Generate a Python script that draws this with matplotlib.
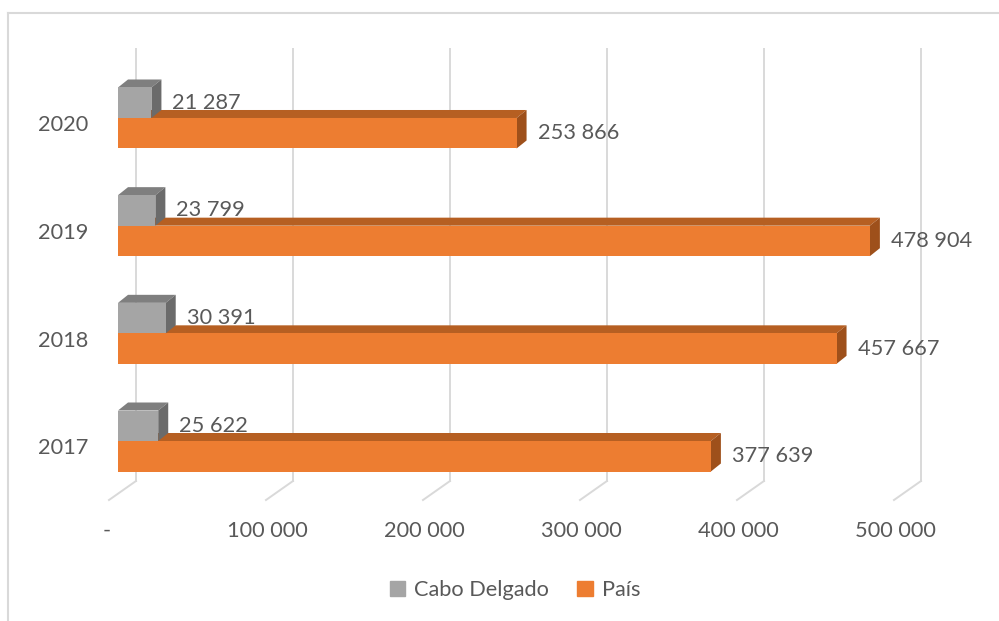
import matplotlib.pyplot as plt
from matplotlib.patches import Polygon, Patch
from matplotlib.lines import Line2D

# Data
years = ['2017', '2018', '2019', '2020']
cabo = [25622, 30391, 23799, 21287]
pais = [377639, 457667, 478904, 253866]
ticks = [0, 100000, 200000, 300000, 400000, 500000]
tick_labels = ['-', '100 000', '200 000', '300 000', '400 000', '500 000']

plt.rcParams['font.family'] = ['Lato', 'DejaVu Sans']
txt = '#595959'
grid = '#D9D9D9'
gray = ['#A5A5A5', '#7F7F7F', '#6B6B6B']      # front, top, side
orange = ['#ED7D31', '#B65F22', '#9E501B']
fs = 15.7

W, H = 999, 621
fig = plt.figure(figsize=(W/100, H/100), dpi=100)
# front plane of the 3D chart
ax = fig.add_axes([118/W, (H-500)/H, 785/W, 460/H])
ux = 500000/785          # data units per pixel (x)
uy = 1/107.67            # data units per pixel (y)
ax.set_xlim(0, 500000)
ax.set_ylim(-59*uy, 401*uy)
ax.axis('off')

# back wall gridlines + floor lines
for v in ticks:
    ax.plot([v + 18*ux, v + 18*ux], [-40*uy, 392*uy], color=grid, lw=1.4,
            clip_on=False, zorder=0)
    ax.plot([v + 18*ux, v - 9*ux], [-40*uy, -59*uy], color=grid, lw=1.4,
            clip_on=False, zorder=0)

h = 30.5*uy              # bar thickness
dx, dy = 10*ux, 8*uy     # bar depth


def bar3d(x, y0, y1, cols):
    front = [(0, y0), (x, y0), (x, y1), (0, y1)]
    top = [(0, y1), (x, y1), (x+dx, y1+dy), (dx, y1+dy)]
    side = [(x, y0), (x+dx, y0+dy), (x+dx, y1+dy), (x, y1)]
    for pts, c in zip([top, side, front], [cols[1], cols[2], cols[0]]):
        ax.add_patch(Polygon(pts, closed=True, facecolor=c, edgecolor='none',
                             zorder=2, clip_on=False))


def fmt(v):
    return f'{v:,}'.replace(',', ' ')


for i in range(len(years)):
    bar3d(pais[i], i - h, i, orange)
    bar3d(cabo[i], i, i + h, gray)
    ax.text(pais[i] + 21*ux, i - h/2, fmt(pais[i]), ha='left', va='center',
            fontsize=fs, color=txt, zorder=5)
    ax.text(cabo[i] + 21*ux, i + h/2, fmt(cabo[i]), ha='left', va='center',
            fontsize=fs, color=txt, zorder=5)
    ax.text(-30*ux, i - 7.5*uy, years[i], ha='right', va='center',
            fontsize=fs, color=txt)

for v, lab in zip(ticks, tick_labels):
    off = -11 if lab == '-' else -8
    ax.text(v + off*ux, -90*uy, lab, ha='center', va='center', fontsize=fs,
            color=txt)

handles = [Patch(color=gray[0], label='Cabo Delgado'),
           Patch(color=orange[0], label='País')]
fig.legend(handles=handles, loc='center', bbox_to_anchor=(515/W, 1 - 590/H),
           ncol=2, frameon=False, fontsize=fs, handlelength=0.72,
           handleheight=0.72, columnspacing=1.3, handletextpad=0.4,
           labelcolor=txt)

# chart border (top and left visible)
fig.add_artist(Line2D([8/W, 8/W], [0, 1 - 13/H], color=grid, lw=1.5))
fig.add_artist(Line2D([8/W, 1], [1 - 13/H, 1 - 13/H], color=grid, lw=1.5))

fig.savefig('out.png', dpi=100)
